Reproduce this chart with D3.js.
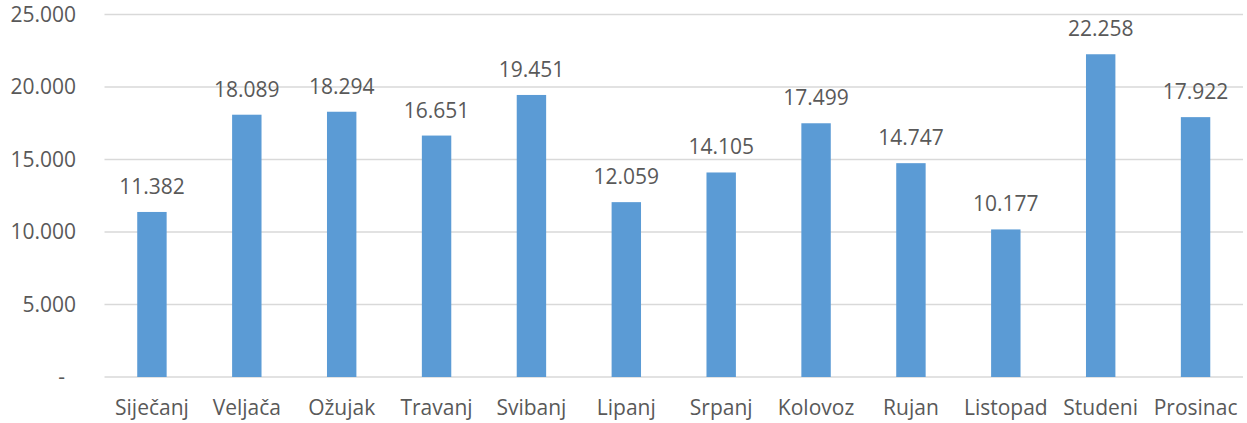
<!DOCTYPE html>
<html>
<head>
<meta charset="utf-8">
<script src="https://cdn.jsdelivr.net/npm/d3@7"></script>
<style>
  body { margin: 0; background: #fff; }
  text { font-family: "Open Sans", sans-serif; fill: #595959; }
</style>
</head>
<body>
<div id="chart"></div>
<script>
// data
var months = ["Siječanj", "Veljača", "Ožujak", "Travanj", "Svibanj", "Lipanj",
              "Srpanj", "Kolovoz", "Rujan", "Listopad", "Studeni", "Prosinac"]
var values = [11382, 18089, 18294, 16651, 19451, 12059,
              14105, 17499, 14747, 10177, 22258, 17922]
var yTicks = [0, 5000, 10000, 15000, 20000, 25000]

var width = 1247,
    height = 423
var margin = {top: 14.5, right: 4, bottom: 46, left: 104.5}

var hr = d3.formatLocale({decimal: ",", thousands: ".", grouping: [3], currency: ["", " kn"]})
var fmt = hr.format(",d")

var svg = d3.select("#chart")
    .append("svg")
    .attr("width", width)
    .attr("height", height)

var x = d3.scaleBand()
    .domain(months)
    .range([margin.left, width - margin.right])
    .paddingInner(0.69)
    .paddingOuter(0.345)

var y = d3.scaleLinear()
    .domain([0, 25000])
    .range([height - margin.bottom, margin.top])

// gridlines
svg.append("g")
    .selectAll("line")
    .data(yTicks)
    .enter()
    .append("line")
    .attr("x1", margin.left)
    .attr("x2", width - margin.right)
    .attr("y1", d => y(d))
    .attr("y2", d => y(d))
    .attr("stroke", "#d9d9d9")
    .attr("stroke-width", 1.5)

// y axis labels
svg.append("g")
    .selectAll("text")
    .data(yTicks)
    .enter()
    .append("text")
    .attr("x", d => d === 0 ? 65 : 76)
    .attr("y", d => y(d))
    .attr("dy", "0.35em")
    .attr("text-anchor", "end")
    .style("font-size", "21px")
    .text(d => d === 0 ? "-" : fmt(d))

// bars
svg.append("g")
    .selectAll("rect")
    .data(values)
    .enter()
    .append("rect")
    .attr("x", (d, i) => x(months[i]))
    .attr("width", x.bandwidth())
    .attr("y", d => y(d))
    .attr("height", d => y(0) - y(d))
    .attr("fill", "#5b9bd5")

// value labels
svg.append("g")
    .selectAll("text")
    .data(values)
    .enter()
    .append("text")
    .attr("x", (d, i) => x(months[i]) + x.bandwidth() / 2)
    .attr("y", d => y(d) - 18)
    .attr("text-anchor", "middle")
    .style("font-size", "21px")
    .text(d => fmt(d))

// category labels
svg.append("g")
    .selectAll("text")
    .data(months)
    .enter()
    .append("text")
    .attr("x", d => x(d) + x.bandwidth() / 2)
    .attr("y", 415)
    .attr("text-anchor", "middle")
    .style("font-size", "21px")
    .text(d => d)
</script>
</body>
</html>
